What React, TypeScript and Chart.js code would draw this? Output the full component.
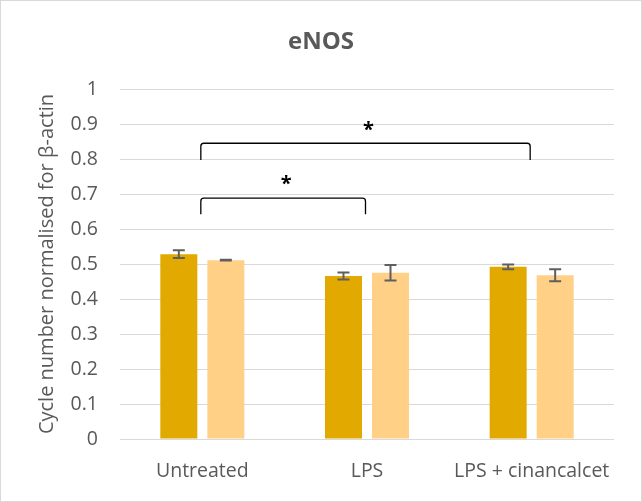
import React, { useEffect, useRef } from "react";
import { Chart, registerables } from "chart.js";

Chart.register(...registerables);

// Treatment groups and the two series per group
const categories = ["Untreated", "LPS", "LPS + cinancalcet"];
const seriesA = [0.528, 0.466, 0.492];
const seriesAErr = [0.011, 0.01, 0.0067];
const seriesB = [0.511, 0.475, 0.468];
const seriesBErr = [0.001, 0.022, 0.017];

// Significance brackets: from / to category index, bracket height, leg bottom, star height
const bracketFrom = [0, 0];
const bracketTo = [1, 2];
const bracketTop = [0.688, 0.845];
const bracketLeg = [0.642, 0.797];
const starLevel = [0.735, 0.89];

const TEXT = "#595959";
const FONT = "'Open Sans', sans-serif";

const errorBars = {
  id: "errorBars",
  afterDatasetsDraw(chart: any) {
    const { ctx } = chart;
    const y = chart.scales.y;
    const errs = [seriesAErr, seriesBErr];
    ctx.save();
    ctx.strokeStyle = "#5f5f5f";
    ctx.lineWidth = 2;
    chart.data.datasets.forEach((ds: any, di: number) => {
      const meta = chart.getDatasetMeta(di);
      meta.data.forEach((bar: any, i: number) => {
        const v = ds.data[i];
        const e = errs[di][i];
        const yTop = y.getPixelForValue(v + e);
        const yBot = y.getPixelForValue(v - e);
        const x = bar.x;
        ctx.beginPath();
        ctx.moveTo(x, yTop);
        ctx.lineTo(x, yBot);
        ctx.moveTo(x - 6, yTop);
        ctx.lineTo(x + 6, yTop);
        ctx.moveTo(x - 6, yBot);
        ctx.lineTo(x + 6, yBot);
        ctx.stroke();
      });
    });
    ctx.restore();
  },
};

const annotations = {
  id: "annotations",
  afterDraw(chart: any) {
    const { ctx, chartArea, width } = chart;
    const x = chart.scales.x;
    const y = chart.scales.y;
    ctx.save();

    // Title, centred on the whole chart
    ctx.fillStyle = TEXT;
    ctx.font = `bold 24px ${FONT}`;
    ctx.textAlign = "center";
    ctx.textBaseline = "alphabetic";
    ctx.fillText("eNOS", width / 2, 48);

    // Y axis title
    ctx.save();
    ctx.translate(46, (chartArea.top + chartArea.bottom) / 2);
    ctx.rotate(-Math.PI / 2);
    ctx.font = `20px ${FONT}`;
    ctx.textBaseline = "middle";
    ctx.fillText("Cycle number normalised for β-actin", 0, 0);
    ctx.restore();

    // Significance brackets
    ctx.strokeStyle = "#000";
    ctx.lineWidth = 1.3;
    ctx.fillStyle = "#000";
    for (let i = 0; i < bracketFrom.length; i++) {
      const x1 = x.getPixelForValue(bracketFrom[i]) - 1.5;
      const x2 = x.getPixelForValue(bracketTo[i]) - 1.5;
      const yt = y.getPixelForValue(bracketTop[i]);
      const yl = y.getPixelForValue(bracketLeg[i]);
      const r = 3;
      ctx.beginPath();
      ctx.moveTo(x1, yl);
      ctx.lineTo(x1, yt + r);
      ctx.quadraticCurveTo(x1, yt, x1 + r, yt);
      ctx.lineTo(x2 - r, yt);
      ctx.quadraticCurveTo(x2, yt, x2, yt + r);
      ctx.lineTo(x2, yl);
      ctx.stroke();

      ctx.font = `bold 20px ${FONT}`;
      ctx.textAlign = "center";
      ctx.textBaseline = "middle";
      ctx.fillText("*", (x1 + x2) / 2 + 3, y.getPixelForValue(starLevel[i]) + 3);
    }
    ctx.restore();
  },
};

export default function App() {
  const ref = useRef<HTMLCanvasElement>(null);

  useEffect(() => {
    if (!ref.current) return;
    const chart = new Chart(ref.current, {
      type: "bar",
      data: {
        labels: categories,
        datasets: [
          {
            data: seriesA,
            backgroundColor: "#e2aa00",
            categoryPercentage: 0.571,
            barPercentage: 0.787,
          },
          {
            data: seriesB,
            backgroundColor: "#ffd086",
            categoryPercentage: 0.571,
            barPercentage: 0.787,
          },
        ],
      },
      options: {
        responsive: false,
        animation: false,
        devicePixelRatio: 1,
        layout: { padding: { top: 88, right: 27, left: 0, bottom: 0 } },
        plugins: {
          legend: { display: false },
          title: { display: false },
          tooltip: { enabled: false },
        },
        scales: {
          x: {
            grid: { display: false },
            border: { display: false },
            ticks: {
              color: TEXT,
              font: { family: FONT, size: 19.5 },
              padding: 13,
              maxRotation: 0,
            },
            afterFit(scale: any) {
              scale.height = 62;
            },
          },
          y: {
            min: 0,
            max: 1,
            border: { display: false },
            grid: { color: "#d9d9d9", lineWidth: 1, drawTicks: false },
            ticks: {
              stepSize: 0.1,
              color: TEXT,
              font: { family: FONT, size: 19.5 },
              padding: 22,
              callback: (v: any) => String(Math.round(Number(v) * 10) / 10),
            },
            afterFit(scale: any) {
              scale.width = 119;
            },
          },
        },
      },
      plugins: [errorBars, annotations],
    });
    return () => chart.destroy();
  }, []);

  return (
    <div
      style={{
        position: "absolute",
        left: 0,
        top: 0,
        width: 642,
        height: 502,
        boxSizing: "border-box",
        border: "1px solid #d9d9d9",
        background: "#fff",
      }}
    >
      <canvas ref={ref} width={640} height={500} style={{ display: "block" }} />
    </div>
  );
}
